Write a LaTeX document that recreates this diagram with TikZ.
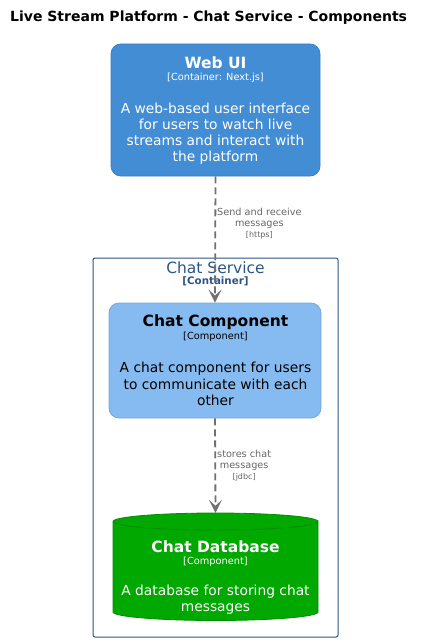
\documentclass[tikz,border=0pt]{standalone}
\usepackage{fontspec}
\setmainfont{DejaVu Sans}
\usetikzlibrary{arrows.meta}
\definecolor{webfill}{HTML}{438DD5}
\definecolor{webdraw}{HTML}{3C7FC0}
\definecolor{compfill}{HTML}{85BBF0}
\definecolor{compdraw}{HTML}{78A8D8}
\definecolor{dbfill}{HTML}{00A800}
\definecolor{dbdraw}{HTML}{008F00}
\definecolor{bndcol}{HTML}{2A5585}
\definecolor{relcol}{HTML}{707070}
\definecolor{rellbl}{HTML}{666666}
\tikzset{
  x=1pt,y=-1pt,
  elembox/.style={rounded corners=10pt, line width=0.8pt, inner sep=0pt},
  reltext/.style={text=rellbl, font=\fontsize{9.7}{11}\selectfont, align=center, inner sep=0pt},
  relline/.style={draw=relcol, line width=1.8pt, dash pattern=on 7pt off 4pt,
    -{Stealth[length=13pt,width=13pt,inset=6pt]}},
  ttl/.style={font=\bfseries\fontsize{15.5}{18}\selectfont, inner sep=0pt},
  tech/.style={font=\fontsize{9.8}{11}\selectfont, inner sep=0pt},
  desc/.style={font=\fontsize{13.8}{16.2}\selectfont, align=center, inner sep=0pt},
}
\begin{document}
\begin{tikzpicture}
\useasboundingbox (0,0) rectangle (423,642);
% title
\node[font=\bfseries\fontsize{14}{16}\selectfont, anchor=west, inner sep=0pt] (title) at (10,18) {Live Stream Platform - Chat Service - Components};

% Web UI
\node[elembox, fill=webfill, draw=webdraw, minimum width=209pt, minimum height=132pt] (web) at (215.5,110) {};
\node[ttl, text=white] (webname) at (215.5,63) {Web UI};
\node[tech, text=white] (webtech) at (215.5,77.5) {[Container: Next.js]};
\node[desc, text=white] (webdesc) at (215.5,133.5) {A web-based user interface\\for users to watch live\\streams and interact with\\the platform};

% boundary
\node[draw=bndcol, line width=1pt, rounded corners=2pt, minimum width=245pt, minimum height=379pt, inner sep=0pt] (bnd) at (215.5,447.5) {};
\node[font=\fontsize{15.5}{18}\selectfont, text=bndcol, inner sep=0pt] (bndname) at (215.5,267.5) {Chat Service};
\node[font=\bfseries\fontsize{10.3}{12}\selectfont, text=bndcol, inner sep=0pt] (bndtech) at (215.5,281.5) {[Container]};

% Chat Component
\node[elembox, fill=compfill, draw=compdraw, minimum width=212pt, minimum height=115pt] (comp) at (215,360.5) {};
\node[ttl, text=black] (compname) at (215.5,322.5) {Chat Component};
\node[tech, text=black] (comptech) at (215.5,337) {[Component]};
\node[desc, text=black] (compdesc) at (215.5,384) {A chat component for users\\to communicate with each\\other};

% Database cylinder
\node[minimum width=205pt, minimum height=107pt, inner sep=0pt] (db) at (215.5,566.5) {};
\fill[dbfill] (113,521.5) -- (113,612) arc[start angle=180, end angle=360, x radius=102.5pt, y radius=8.5pt] -- (318,521.5) arc[start angle=0, end angle=180, x radius=102.5pt, y radius=8.5pt] -- cycle;
\draw[dbdraw, line width=0.8pt] (113,521.5) -- (113,612) arc[start angle=180, end angle=360, x radius=102.5pt, y radius=8.5pt] -- (318,521.5) arc[start angle=0, end angle=-180, x radius=102.5pt, y radius=8.5pt] arc[start angle=180, end angle=0, x radius=102.5pt, y radius=8.5pt];
\node[ttl, text=white] (dbname) at (215.5,546.5) {Chat Database};
\node[tech, text=white] (dbtech) at (215.5,561.5) {[Component]};
\node[desc, text=white] (dbdesc) at (215.5,600) {A database for storing chat\\messages};

% relations
\draw[relline] (web.south) -- (comp.north);
\node[reltext, anchor=north west] (rel1) at (217,208) {Send and receive\\messages\\{\fontsize{8}{9}\selectfont[https]}};
\draw[relline] (comp.south) -- (db.north);
\node[reltext, anchor=north west] (rel2) at (217,450) {stores chat\\messages\\{\fontsize{8}{9}\selectfont[jdbc]}};
\end{tikzpicture}
\end{document}
